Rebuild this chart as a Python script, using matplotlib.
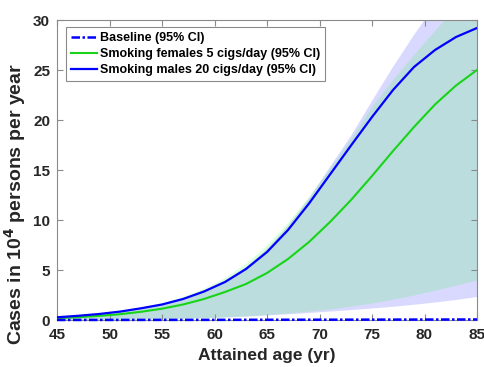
import numpy as np
import matplotlib
matplotlib.use("Agg")
import matplotlib.pyplot as plt

plt.rcParams['font.family'] = ['Liberation Sans', 'DejaVu Sans']
plt.rcParams['font.weight'] = 'bold'

# Attained age (years)
age = [45, 47, 49, 51, 53, 55, 57, 59, 61, 63, 65, 67, 69, 71, 73, 75, 77, 79, 81, 83, 85]

# Baseline incidence
base_mid = [0.005, 0.006, 0.007, 0.008, 0.010, 0.011, 0.013, 0.015, 0.017, 0.020, 0.022,
            0.025, 0.028, 0.031, 0.034, 0.037, 0.040, 0.043, 0.046, 0.050, 0.054]

# Smoking females, 5 cigarettes/day
fem_mid = [0.19, 0.28, 0.41, 0.58, 0.82, 1.13, 1.55, 2.10, 2.80, 3.60, 4.70,
           6.10, 7.80, 9.80, 12.00, 14.40, 16.90, 19.30, 21.55, 23.45, 25.00]
fem_lo = [0.01, 0.02, 0.03, 0.05, 0.08, 0.11, 0.16, 0.22, 0.30, 0.41, 0.54,
          0.70, 0.88, 1.10, 1.38, 1.70, 2.08, 2.50, 2.98, 3.48, 4.00]
fem_hi = [0.30, 0.46, 0.66, 0.93, 1.30, 1.74, 2.36, 3.18, 4.28, 5.70, 7.55,
          9.80, 12.40, 15.20, 18.20, 21.40, 24.10, 26.60, 29.00, 31.40, 33.60]

# Smoking males, 20 cigarettes/day
mal_mid = [0.27, 0.42, 0.60, 0.84, 1.17, 1.55, 2.10, 2.85, 3.80, 5.10, 6.80,
           9.00, 11.65, 14.55, 17.45, 20.30, 23.00, 25.30, 27.00, 28.30, 29.20]
mal_lo = [0.01, 0.015, 0.025, 0.04, 0.06, 0.09, 0.13, 0.18, 0.25, 0.34, 0.45,
          0.57, 0.70, 0.84, 0.99, 1.15, 1.32, 1.52, 1.75, 2.00, 2.30]
mal_hi = [0.28, 0.43, 0.62, 0.87, 1.21, 1.60, 2.17, 2.94, 3.95, 5.28, 7.10,
          9.40, 12.15, 15.30, 18.40, 21.90, 25.30, 28.50, 31.50, 34.30, 37.00]

x_ticks = [45, 50, 55, 60, 65, 70, 75, 80, 85]
y_ticks = [0, 5, 10, 15, 20, 25, 30]

green = '#18d418'
blue = '#0000ff'
frame = '#8a8a8a'
text_c = '#262626'

fig = plt.figure(figsize=(4.84, 3.67), dpi=100)
ax = fig.add_axes([57 / 484, 1 - 320 / 367, 420 / 484, 300 / 367])

ax.fill_between(age, mal_lo, mal_hi, color=blue, alpha=0.15, linewidth=0)
ax.fill_between(age, fem_lo, fem_hi, color=(0, 1, 0), alpha=0.13, linewidth=0)

ax.plot(age, base_mid, color=blue, linestyle=(0, (3.4, 1.0, 1.0, 1.0)), linewidth=1.8,
        label='Baseline (95% CI)', zorder=4, clip_on=False)
ax.plot(age, fem_mid, color=green, linewidth=1.5,
        label='Smoking females 5 cigs/day (95% CI)', zorder=3)
ax.plot(age, mal_mid, color=blue, linewidth=1.6,
        label='Smoking males 20 cigs/day (95% CI)', zorder=3)

ax.set_xlim(45, 85)
ax.set_ylim(0, 30)
ax.set_xticks(x_ticks)
ax.set_yticks(y_ticks)
ax.tick_params(direction='in', length=4, width=0.8, color=frame,
               top=True, right=True, labelsize=11, labelcolor=text_c)
ax.tick_params(axis='x', pad=6)
ax.tick_params(axis='y', pad=5)
for lab in ax.get_xticklabels() + ax.get_yticklabels():
    lab.set_fontweight('bold')
for sp in ax.spines.values():
    sp.set_color(frame)
    sp.set_linewidth(0.8)

ax.set_xlabel('Attained age (yr)', fontsize=12.5, fontweight='bold', color=text_c)
ax.set_ylabel('Cases in 10$^\\mathbf{4}$ persons per year', fontsize=14,
              fontweight='bold', color=text_c)
ax.xaxis.set_label_coords(0.5, -0.092)
ax.yaxis.set_label_coords(-0.068, 0.385)

leg = ax.legend(loc='upper left', bbox_to_anchor=(0.021, 0.977), borderaxespad=0,
                handlelength=2.1, handletextpad=0.25,
                labelspacing=0.32, borderpad=0.4, fancybox=False,
                framealpha=1, edgecolor=frame, prop={'weight': 'bold', 'size': 9})
leg.get_frame().set_linewidth(0.8)
for t in leg.get_texts():
    t.set_color('black')

fig.savefig('out.png', dpi=100)
